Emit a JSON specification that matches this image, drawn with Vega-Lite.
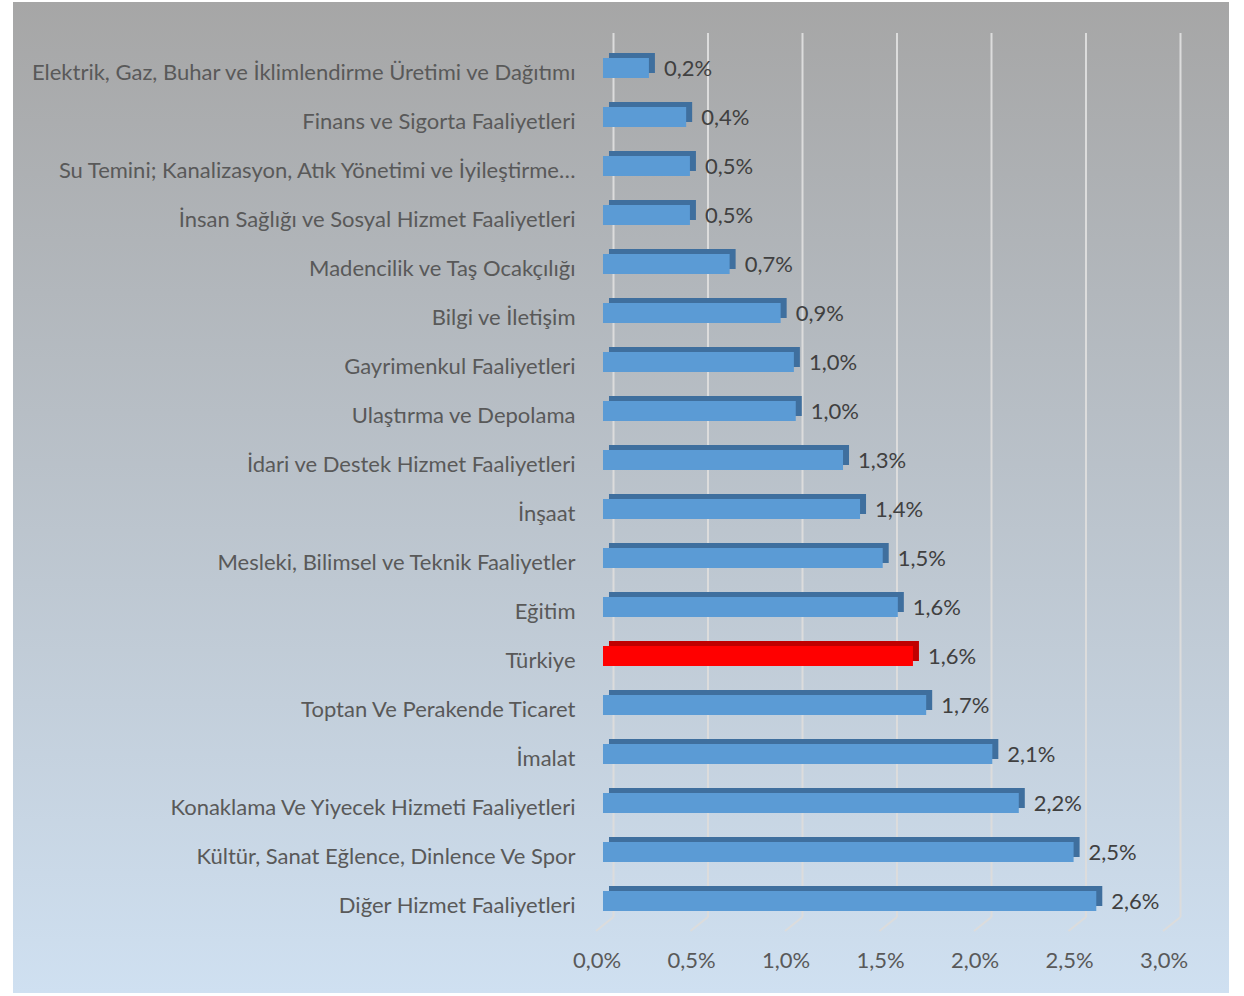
{
  "$schema": "https://vega.github.io/schema/vega-lite/v6.json",
  "width": 1216,
  "height": 991,
  "padding": {"left": 13, "top": 2, "right": 15, "bottom": 3},
  "background": "#ffffff",
  "config": {
    "view": {"stroke": null, "fill": {
          "gradient": "linear", "x1": 0, "y1": 0, "x2": 0, "y2": 1,
          "stops": [
            {"offset": 0, "color": "#a6a6a6"},
            {"offset": 1, "color": "#cfe0f1"}
          ]
        }},
    "locale": {"number": {"decimal": ",", "thousands": ".", "grouping": [3], "currency": ["", " TL"]}},
    "font": "Lato"
  },
  "data": {"values": [
      {"sektor": "Elektrik, Gaz, Buhar ve İklimlendirme Üretimi ve Dağıtımı", "oran": 0.00243, "tur": "Sektör"},
      {"sektor": "Finans ve Sigorta Faaliyetleri", "oran": 0.0044, "tur": "Sektör"},
      {"sektor": "Su Temini; Kanalizasyon, Atık Yönetimi ve İyileştirme…", "oran": 0.0046, "tur": "Sektör"},
      {"sektor": "İnsan Sağlığı ve Sosyal Hizmet Faaliyetleri", "oran": 0.0046, "tur": "Sektör"},
      {"sektor": "Madencilik ve Taş Ocakçılığı", "oran": 0.0067, "tur": "Sektör"},
      {"sektor": "Bilgi ve İletişim", "oran": 0.0094, "tur": "Sektör"},
      {"sektor": "Gayrimenkul Faaliyetleri", "oran": 0.0101, "tur": "Sektör"},
      {"sektor": "Ulaştırma ve Depolama", "oran": 0.0102, "tur": "Sektör"},
      {"sektor": "İdari ve Destek Hizmet Faaliyetleri", "oran": 0.0127, "tur": "Sektör"},
      {"sektor": "İnşaat", "oran": 0.0136, "tur": "Sektör"},
      {"sektor": "Mesleki, Bilimsel ve Teknik Faaliyetler", "oran": 0.0148, "tur": "Sektör"},
      {"sektor": "Eğitim", "oran": 0.0156, "tur": "Sektör"},
      {"sektor": "Türkiye", "oran": 0.0164, "tur": "Türkiye"},
      {"sektor": "Toptan Ve Perakende Ticaret", "oran": 0.0171, "tur": "Sektör"},
      {"sektor": "İmalat", "oran": 0.0206, "tur": "Sektör"},
      {"sektor": "Konaklama Ve Yiyecek Hizmeti Faaliyetleri", "oran": 0.022, "tur": "Sektör"},
      {"sektor": "Kültür, Sanat Eğlence, Dinlence Ve Spor", "oran": 0.0249, "tur": "Sektör"},
      {"sektor": "Diğer Hizmet Faaliyetleri", "oran": 0.0261, "tur": "Sektör"}
  ]},
  "encoding": {
    "y": {"field": "sektor", "type": "nominal", "sort": null,
      "scale": {"paddingInner": 0.592, "paddingOuter": 0, "range": [56, 909],
        "domain": [
          "Elektrik, Gaz, Buhar ve İklimlendirme Üretimi ve Dağıtımı",
          "Finans ve Sigorta Faaliyetleri",
          "Su Temini; Kanalizasyon, Atık Yönetimi ve İyileştirme…",
          "İnsan Sağlığı ve Sosyal Hizmet Faaliyetleri",
          "Madencilik ve Taş Ocakçılığı",
          "Bilgi ve İletişim",
          "Gayrimenkul Faaliyetleri",
          "Ulaştırma ve Depolama",
          "İdari ve Destek Hizmet Faaliyetleri",
          "İnşaat",
          "Mesleki, Bilimsel ve Teknik Faaliyetler",
          "Eğitim",
          "Türkiye",
          "Toptan Ve Perakende Ticaret",
          "İmalat",
          "Konaklama Ve Yiyecek Hizmeti Faaliyetleri",
          "Kültür, Sanat Eğlence, Dinlence Ve Spor",
          "Diğer Hizmet Faaliyetleri"
        ]},
      "axis": {"orient": "left", "offset": -562, "ticks": false, "domain": false, "labelPadding": 0, "labelLimit": 700,
        "labelAlign": "right", "labelOffset": 5, "labelFontSize": 22, "labelColor": "#595959", "labelFont": "Lato", "title": null}},
    "x": {"field": "oran", "type": "quantitative", "scale": {"domain": [-0.031217, 0.033122], "nice": false, "zero": false},
      "axis": {"values": [0, 0.005, 0.01, 0.015, 0.02, 0.025, 0.03], "format": ".1%", "labelExpr": "replace(datum.label, '.', ',')", "orient": "bottom", "offset": -33,
        "grid": false, "ticks": false, "domain": false, "labelPadding": 0, "labelBaseline": "middle",
        "labelOffset": -6.5, "labelFontSize": 22, "labelColor": "#595959", "labelFont": "Lato", "title": null}}
  },
  "layer": [
    {
      "data": {"values": [
        {"v": 0, "ust": "Elektrik, Gaz, Buhar ve İklimlendirme Üretimi ve Dağıtımı", "alt": "Diğer Hizmet Faaliyetleri"},
        {"v": 0.005, "ust": "Elektrik, Gaz, Buhar ve İklimlendirme Üretimi ve Dağıtımı", "alt": "Diğer Hizmet Faaliyetleri"},
        {"v": 0.01, "ust": "Elektrik, Gaz, Buhar ve İklimlendirme Üretimi ve Dağıtımı", "alt": "Diğer Hizmet Faaliyetleri"},
        {"v": 0.015, "ust": "Elektrik, Gaz, Buhar ve İklimlendirme Üretimi ve Dağıtımı", "alt": "Diğer Hizmet Faaliyetleri"},
        {"v": 0.02, "ust": "Elektrik, Gaz, Buhar ve İklimlendirme Üretimi ve Dağıtımı", "alt": "Diğer Hizmet Faaliyetleri"},
        {"v": 0.025, "ust": "Elektrik, Gaz, Buhar ve İklimlendirme Üretimi ve Dağıtımı", "alt": "Diğer Hizmet Faaliyetleri"},
        {"v": 0.03, "ust": "Elektrik, Gaz, Buhar ve İklimlendirme Üretimi ve Dağıtımı", "alt": "Diğer Hizmet Faaliyetleri"}
      ]},
      "layer": [
        {
          "mark": {"type": "rule", "color": "#dcdcdc", "strokeWidth": 2, "xOffset": 10.5, "yOffset": -35, "y2Offset": 16},
          "encoding": {
            "x": {"field": "v", "type": "quantitative"},
            "y": {"field": "ust", "type": "nominal", "sort": null},
            "y2": {"field": "alt"}
          }
        },
        {
          "mark": {"type": "rule", "color": "#dcdcdc", "strokeWidth": 2, "xOffset": 10.5, "x2Offset": -7, "yOffset": 16, "y2Offset": 30},
          "encoding": {
            "x": {"field": "v", "type": "quantitative"},
            "x2": {"field": "v"},
            "y": {"field": "alt", "type": "nominal", "sort": null},
            "y2": {"field": "alt"}
          }
        }
      ]
    },
    {
      "mark": {"type": "bar", "xOffset": 6, "x2Offset": 6, "yOffset": -5, "y2Offset": -5},
      "encoding": {
        "color": {"condition": {"test": "datum.tur === 'Türkiye'", "value": "#c00000"}, "value": "#3f6f9e"}
      }
    },
    {
      "mark": {"type": "bar"},
      "encoding": {
        "color": {"condition": {"test": "datum.tur === 'Türkiye'", "value": "#ff0000"}, "value": "#5b9bd5"}
      }
    },
    {
      "mark": {"type": "text", "align": "left", "baseline": "middle", "xOffset": 15, "yOffset": 1, "fontSize": 22, "color": "#404040", "font": "Lato"},
      "encoding": {
        "text": {"field": "oran", "type": "quantitative", "format": ".1%"}
      }
    }
  ]
}
